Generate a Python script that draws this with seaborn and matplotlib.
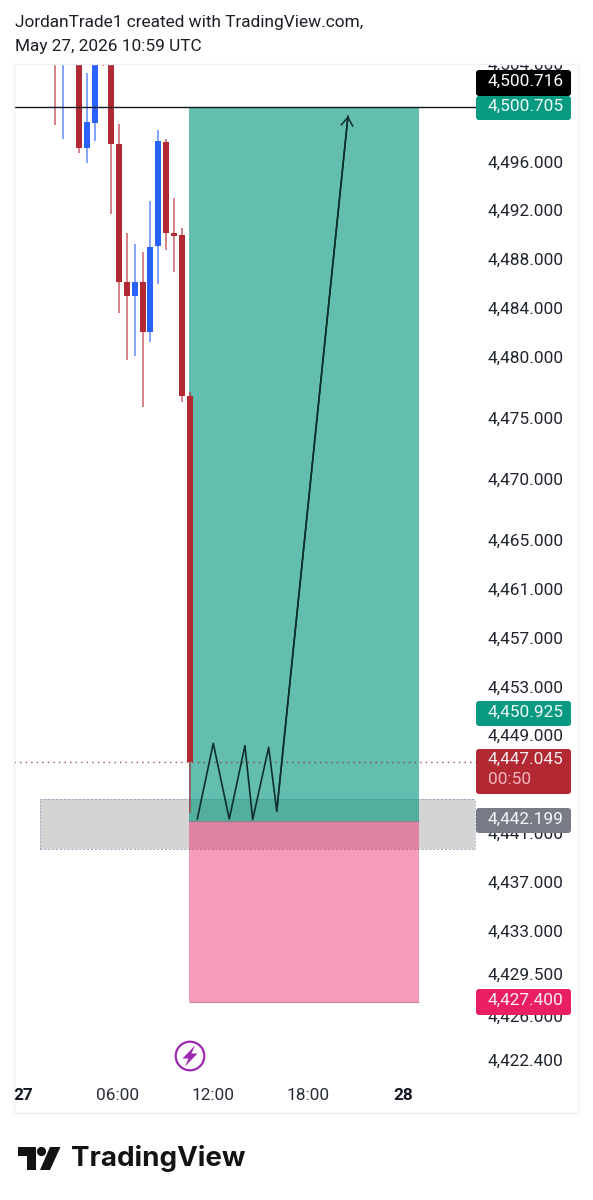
import numpy as np
import matplotlib
matplotlib.use("Agg")
import matplotlib.pyplot as plt
from matplotlib.patches import FancyBboxPatch, Polygon, Circle
from matplotlib.transforms import Affine2D
import seaborn as sns

# ---------- data ----------
hours  = [2, 2.5, 3.5, 4, 4.5, 5, 5.5, 6, 6.5, 7, 7.5, 8, 8.5, 9, 9.5, 10, 10.5]
opens  = [4510, 4508, 4510, 4497.32, 4499.37, 4510, 4508, 4497.65, 4486.34, 4485.23, 4486.40, 4482.30, 4489.35, 4497.86, 4490.36, 4490.20, 4477.01]
closes = [4508, 4510, 4497.32, 4499.50, 4508, 4508, 4497.65, 4486.34, 4485.23, 4486.34, 4482.30, 4489.27, 4497.92, 4490.36, 4490.14, 4477.01, 4447.045]
highs  = [4512, 4512, 4512, 4503.46, 4512, 4512, 4512, 4499.28, 4490.41, 4489.46, 4488.86, 4493.01, 4498.82, 4498.10, 4493.22, 4490.77, 4477.39]
lows   = [4499.23, 4498.08, 4496.91, 4496.09, 4497.92, 4504.10, 4491.91, 4483.86, 4479.96, 4480.31, 4476.16, 4481.49, 4486.21, 4489.02, 4487.22, 4476.57, 4442.90]
is_up  = [False, True, False, True, True, False, False, False, False, True, False, True, True, False, False, False, False]

path_hours  = [11.01, 12.02, 13.03, 14.02, 14.51, 15.52, 16.03, 20.53]
path_prices = [4442.39, 4448.59, 4442.39, 4448.40, 4442.35, 4448.26, 4443.05, 4499.97]

price_ticks = [4504, 4496, 4492, 4488, 4484, 4480, 4475, 4470, 4465, 4461, 4457,
               4453, 4449, 4441, 4437, 4433, 4429.5, 4426, 4422.4]
time_ticks  = [0, 6, 12, 18, 24]
time_labels = ["27", "06:00", "12:00", "18:00", "28"]

target_price = 4500.705
stop_price   = 4427.400
entry_price  = 4442.199
last_price   = 4447.045
cross_price  = 4500.716
zone_top, zone_bottom = 4444.03, 4439.93
pos_start, pos_end = 10.50, 25.02
zone_start, zone_end = 1.07, 28.55
line_end = 28.6

# ---------- figure ----------
sns.set_theme(style="white")
plt.rcParams["font.family"] = ["Roboto", "DejaVu Sans"]
W, H = 593, 1200
fig = plt.figure(figsize=(W / 100, H / 100), dpi=100, facecolor="white")
L, R, T, B = 14, 578, 64, 1113
ax = fig.add_axes([L / W, 1 - B / H, (R - L) / W, (B - T) / H])

px_per_hour = 15.83
px_per_price = 12.21
ax.set_xlim((L - 23) / px_per_hour, (R - 23) / px_per_hour)
ax.set_ylim(target_price - (B - 107) / px_per_price, target_price + (107 - T) / px_per_price)

RED, BLUE = "#b22833", "#2962ff"
TEAL, PINK = "#089981", "#e91e63"

# grey zone lies under the position boxes
ax.fill_between([zone_start, zone_end], zone_bottom, zone_top, color="#d4d4d4", lw=0, zorder=1)
for p in (zone_top, zone_bottom):
    ax.hlines(p, zone_start, zone_end, color="#93a8c4", lw=0.7, ls=(0, (2, 2)), zorder=1.05)
ax.vlines([zone_start, zone_end], zone_bottom, zone_top, color="#93a8c4", lw=0.6, ls=(0, (2, 2)), zorder=1.05)

# risk / reward boxes
ax.fill_between([pos_start, pos_end], entry_price, target_price, color=TEAL, alpha=0.63, lw=0, zorder=1.2)
ax.fill_between([pos_start, pos_end], stop_price, entry_price, color=PINK, alpha=0.44, lw=0, zorder=1.2)
ax.hlines(entry_price, pos_start, pos_end, color="#66807f", lw=0.8, alpha=0.7, zorder=1.3)
ax.hlines(stop_price, pos_start, pos_end, color="#c9829f", lw=0.8, zorder=1.3)

# candles (drawn at the middle of their half-hour slot on the scale)
cols = [BLUE if u else RED for u in is_up]
xpos = np.array(hours) + 0.05
ax.vlines(xpos, lows, highs, colors=cols, lw=1.25, alpha=0.65, zorder=2)
bottoms = np.minimum(opens, closes)
heights = np.abs(np.array(closes) - np.array(opens))
ax.bar(xpos, heights, bottom=bottoms, width=6 / px_per_hour, color=cols, lw=0, zorder=2.1)

# price lines
ax.hlines(cross_price, ax.get_xlim()[0], line_end, color="#131722", lw=1.0, zorder=2.2)
ax.hlines(last_price, ax.get_xlim()[0], line_end, color="#8a2f3a", lw=1.0, ls=(0, (1, 3)), alpha=0.85, zorder=2.2)

# hand-drawn path
sns.lineplot(x=path_hours, y=path_prices, sort=False, estimator=None, color="#0d2f2b",
             lw=1.2, ax=ax, zorder=3, legend=False)
ax.annotate("", xy=(path_hours[-1], path_prices[-1]), xytext=(path_hours[-2], path_prices[-2]),
            arrowprops=dict(arrowstyle="->,head_length=0.5,head_width=0.35", color="#0d2f2b", lw=1.1,
                            shrinkA=0, shrinkB=0), zorder=3)

# axes furniture
ax.set_xlabel(""); ax.set_ylabel("")
ax.yaxis.tick_right()
ax.tick_params(axis="y", length=0, pad=-(R - 488) * 0.72, labelsize=12.4, labelcolor="#20242e")
ax.tick_params(axis="x", length=0, pad=-17.9, labelsize=12.4, labelcolor="#2a2e39")
ax.set_yticks(price_ticks)
ax.set_yticklabels([f"{p:,.3f}" for p in price_ticks], ha="left")
ax.set_xticks(time_ticks)
ax.set_xticklabels(time_labels)
for t in ax.yaxis.get_major_ticks():
    lab = t.label2
    lab.set_transform(lab.get_transform() + Affine2D().translate(0, 3.0))
    lab.set_clip_box(ax.bbox)
    lab.set_clip_on(True)
for t, s in zip(ax.xaxis.get_major_ticks(), time_labels):
    if len(s) == 2:
        t.label1.set_fontweight("bold")
        t.label1.set_color("#131722")
for s in ax.spines.values():
    s.set_color("#f0f2f7")
    s.set_linewidth(1.0)

# ---------- overlay in pixel space: badges, icons, titles ----------
ov = fig.add_axes([0, 0, 1, 1], facecolor="none")
ov.set_xlim(0, W); ov.set_ylim(H, 0); ov.axis("off")

def badge(y0, y1, color, lines):
    ov.add_patch(FancyBboxPatch((476 + 2, y0 + 2), 95 - 4, y1 - y0 - 4,
                                boxstyle="round,pad=2,rounding_size=3", fc=color, ec="none", zorder=5))
    for text, y, c in lines:
        ov.text(488, y, text, color=c, fontsize=12.4, va="center", ha="left", zorder=6)

badge(70, 96, "#000000", [("4,500.716", 81.5, "white")])
badge(96, 120, "#089981", [("4,500.705", 106.5, "#f0faf8")])
badge(701, 726, "#089981", [("4,450.925", 712.5, "#f0faf8")])
badge(749, 794, "#b22833", [("4,447.045", 759.5, "#fbecee"), ("00:50", 779.5, "#f4b6bd")])
badge(808, 833, "#787b86", [("4,442.199", 819.5, "#f7f7f9")])
badge(989, 1015, "#ea1f62", [("4,427.400", 1000.5, "#fdeef3")])

# purple lightning marker
ov.add_patch(Circle((190, 1056), 14.3, fc="white", ec="#9c27b0", lw=1.6, zorder=5))
ov.add_patch(Polygon([(195, 1045.5), (182.5, 1058.5), (188.5, 1058.5), (185, 1066.5),
                      (197.5, 1053.5), (191.5, 1053.5)], closed=True, fc="#9c27b0", ec="none", zorder=6))

# header
ov.text(15, 22, "JordanTrade1 created with TradingView.com,", fontsize=12.4, color="#1c1f26", va="center")
ov.text(15, 46.5, "May 27, 2026 10:59 UTC", fontsize=12.4, color="#1c1f26", va="center")

# footer logo
LOGO = "#131313"
ov.add_patch(Polygon([(18, 1147), (36, 1147), (36, 1170), (27, 1170), (27, 1156), (18, 1156)],
                     closed=True, fc=LOGO, ec="none"))
ov.add_patch(Circle((41.5, 1151.5), 4.6, fc=LOGO, ec="none"))
ov.add_patch(Polygon([(50, 1147), (60.5, 1147), (50, 1170), (40, 1170)], closed=True, fc=LOGO, ec="none"))
ov.text(71, 1158.5, "TradingView", fontsize=20, fontweight="bold", color=LOGO, va="center",
        family=["Inter", "Roboto"])

fig.savefig("out.png", dpi=100, facecolor="white")
